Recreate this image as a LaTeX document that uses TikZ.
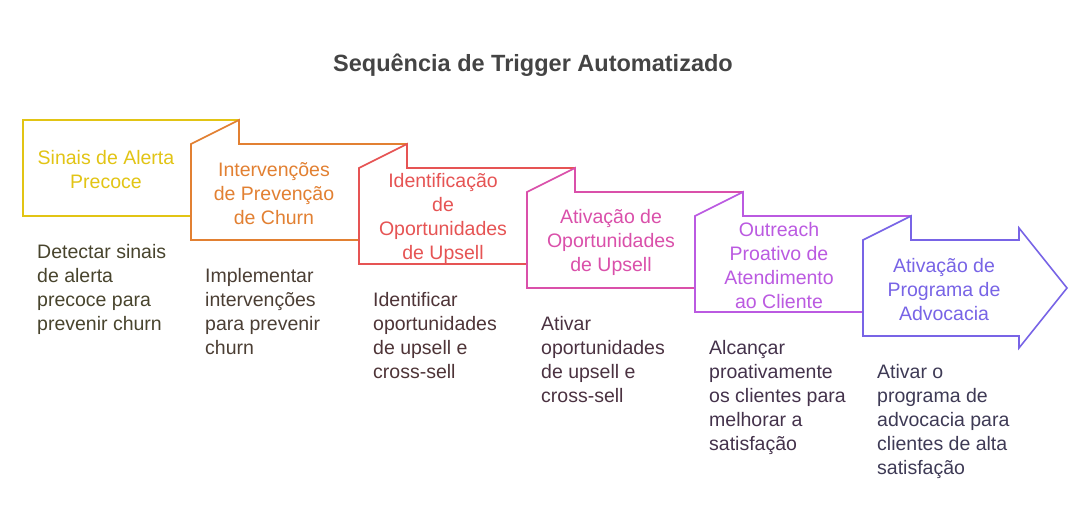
\documentclass[tikz,border=0pt]{standalone}
\usepackage{fontspec}
\setmainfont{Liberation Sans}
\definecolor{titlegray}{RGB}{68,68,68}
\definecolor{stepyellow}{RGB}{226,196,20}
\definecolor{steporange}{RGB}{226,128,50}
\definecolor{stepred}{RGB}{230,84,84}
\definecolor{steppink}{RGB}{218,80,170}
\definecolor{steppurple}{RGB}{187,90,225}
\definecolor{stepviolet}{RGB}{120,100,230}
\definecolor{descyellow}{RGB}{72,68,45}
\definecolor{descorange}{RGB}{75,62,52}
\definecolor{descred}{RGB}{78,52,55}
\definecolor{descpink}{RGB}{75,50,65}
\definecolor{descpurple}{RGB}{68,50,75}
\definecolor{descviolet}{RGB}{62,58,85}
\usetikzlibrary{positioning}
\tikzset{
	fold/.style  = {line width=1.6pt,fill=white,line join=miter},
	lbl/.style   = {align=center,inner sep=0pt,
		font=\fontsize{19.5}{24}\selectfont},
	desc/.style  = {align=left,anchor=north west,inner sep=0pt,
		font=\fontsize{19.5}{24}\selectfont},
	ttl/.style   = {font=\fontsize{23.5}{28}\selectfont\bfseries,
		text=titlegray,inner sep=0pt},
}

\begin{document}
\begin{tikzpicture}[x=1pt,y=-1pt]
	\useasboundingbox (0,0) rectangle (1091,528);
	
	%% Titre
	\node (title) [ttl] at (533,65) {Sequência de Trigger Automatizado};
	
	%% Etapes (pliées)
	\draw[fold,draw=stepyellow] (23,120) rectangle ++(216,96);
	\foreach \i/\c in {1/steporange,2/stepred,3/steppink,4/steppurple}
	\draw[fold,draw=\c] ({23+168*\i},{120+24*\i}) -- ++(48,-24) -- ++(0,24)
	-- ++(168,0) -- ++(0,96) -- ++(-216,0) -- cycle;
	\draw[fold,draw=stepviolet] (863,240) -- ++(48,-24) -- ++(0,24)
	-- (1019,240) -- (1019,228) -- (1067,288) -- (1019,348)
	-- (1019,336) -- (863,336) -- cycle;
	
	%% Libellés
	\node (s1) [lbl,text=stepyellow] at (106,170)
	{Sinais de Alerta\\Precoce};
	\node (s2) [lbl,text=steporange] at (274,194)
	{Intervenções\\de Prevenção\\de Churn};
	\node (s3) [lbl,text=stepred] at (443,218)
	{Identificação\\de\\Oportunidades\\de Upsell};
	\node (s4) [lbl,text=steppink] at (611,242)
	{Ativação de\\Oportunidades\\de Upsell};
	\node (s5) [lbl,text=steppurple] at (779,266)
	{Outreach\\Proativo de\\Atendimento\\ao Cliente};
	\node (s6) [lbl,text=stepviolet] at (944,290)
	{Ativação de\\Programa de\\Advocacia};
	
	%% Descriptions
	\node (d1) [desc,text=descyellow] at (37,244)
	{Detectar sinais\\de alerta\\precoce para\\prevenir churn};
	\node (d2) [desc,text=descorange] at (205,268)
	{Implementar\\intervenções\\para prevenir\\churn};
	\node (d3) [desc,text=descred] at (373,292)
	{Identificar\\oportunidades\\de upsell e\\cross-sell};
	\node (d4) [desc,text=descpink] at (541,316)
	{Ativar\\oportunidades\\de upsell e\\cross-sell};
	\node (d5) [desc,text=descpurple] at (709,340)
	{Alcançar\\proativamente\\os clientes para\\melhorar a\\satisfação};
	\node (d6) [desc,text=descviolet] at (877,364)
	{Ativar o\\programa de\\advocacia para\\clientes de alta\\satisfação};
\end{tikzpicture}
\end{document}
